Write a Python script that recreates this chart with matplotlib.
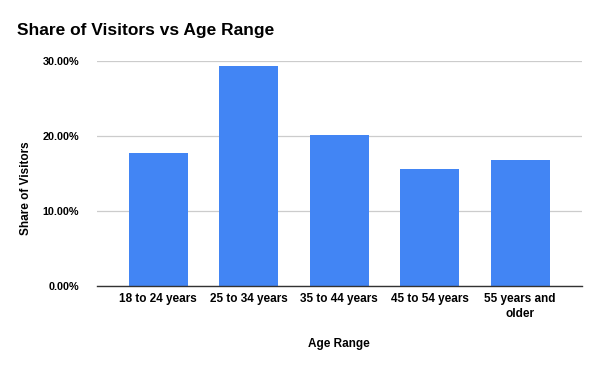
import matplotlib
matplotlib.use("Agg")
import matplotlib.pyplot as plt
from matplotlib.ticker import FuncFormatter

categories = ["18 to 24 years", "25 to 34 years", "35 to 44 years", "45 to 54 years", "55 years and\nolder"]
share = [0.1773, 0.2937, 0.2013, 0.1564, 0.1684]
yticks = [0.0, 0.10, 0.20, 0.30]

plt.rcParams['font.family'] = ['Liberation Sans', 'DejaVu Sans']

fig = plt.figure(figsize=(6, 3.71), dpi=100)
ax = fig.add_axes([0.161, 0.2283, 0.8085, 0.6065])

x = list(range(len(categories)))
ax.bar(x, share, width=0.65, color="#4285F4", zorder=3)

ax.set_xlim(-0.68, len(categories) - 1 + 0.68)
ax.set_ylim(0, 0.30)
ax.set_yticks(yticks)
ax.yaxis.set_major_formatter(FuncFormatter(lambda v, p: f"{v*100:.2f}%"))
ax.set_xticks(x)
ax.set_xticklabels(categories, fontsize=8.5, fontweight="bold", linespacing=1.35)
for lbl in ax.get_yticklabels():
    lbl.set_fontsize(7.8)
    lbl.set_fontweight("bold")

ax.grid(axis="y", color="#cccccc", linewidth=0.9, zorder=0)
ax.tick_params(axis="x", length=0, pad=5)
ax.tick_params(axis="y", length=0, pad=12.5)
for side in ["top", "right", "left"]:
    ax.spines[side].set_visible(False)
ax.spines["bottom"].set_color("#333333")
ax.spines["bottom"].set_linewidth(1.0)
ax.spines["bottom"].set_zorder(4)

fig.text(26.5/600, 1 - 188/371, "Share of Visitors", fontsize=8.5, fontweight="bold",
         rotation=90, ha="center", va="center")
fig.text(338.7/600, 1 - 344/371, "Age Range", fontsize=8.5, fontweight="bold",
         ha="center", va="center")

fig.text(17/600, 1 - 31/371, "Share of Visitors vs Age Range", fontsize=12.5,
         fontweight="bold", ha="left", va="center")

fig.savefig("out.png", dpi=100)
